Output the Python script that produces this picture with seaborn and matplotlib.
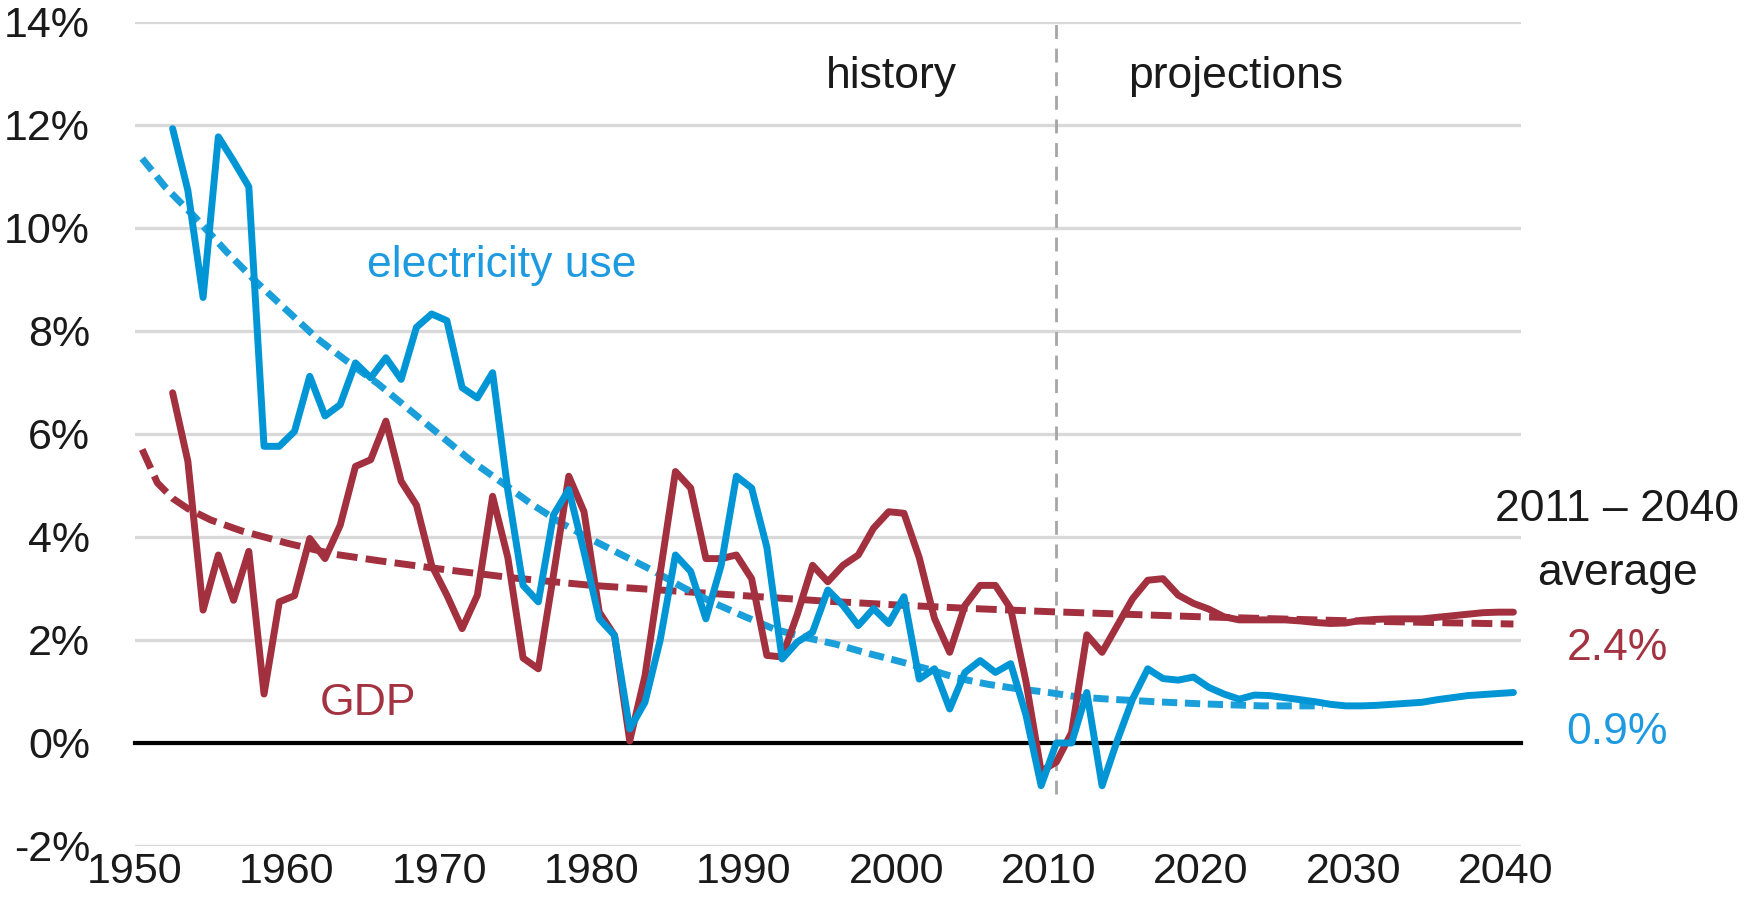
#!/usr/bin/env python3

import numpy as np
import pandas as pd
import seaborn as sns
import matplotlib.pyplot as plt
from matplotlib import font_manager

# annual growth rates (%), one value per year; points sit in the middle of each year
YEARS = list(range(1952, 2041))

ELECTRICITY = [
    11.93, 10.73, 8.65, 11.77, 11.3, 10.8, 5.76, 5.76, 6.05, 7.12,
    6.35, 6.57, 7.38, 7.09, 7.48, 7.06, 8.07, 8.33, 8.2, 6.9,
    6.7, 7.19, 4.9, 3.06, 2.74, 4.43, 4.92, 3.71, 2.41, 2.09,
    0.27, 0.79, 2.0, 3.65, 3.33, 2.41, 3.45, 5.18, 4.95, 3.8,
    1.63, 1.96, 2.15, 2.97, 2.67, 2.28, 2.61, 2.32, 2.84, 1.24,
    1.44, 0.66, 1.37, 1.6, 1.37, 1.54, 0.55, -0.83, 0.0, 0.0,
    0.98, -0.83, 0.05, 0.85, 1.44, 1.25, 1.22, 1.28, 1.08, 0.95,
    0.85, 0.93, 0.92, 0.88, 0.84, 0.8, 0.75, 0.72, 0.72, 0.73,
    0.75, 0.77, 0.79, 0.84, 0.88, 0.92, 0.94, 0.96, 0.98,
]

GDP = [
    6.8, 5.47, 2.58, 3.65, 2.77, 3.72, 0.95, 2.74, 2.86, 3.97,
    3.58, 4.23, 5.37, 5.5, 6.25, 5.08, 4.62, 3.45, 2.87, 2.22,
    2.87, 4.79, 3.6, 1.65, 1.44, 3.27, 5.18, 4.49, 2.54, 2.09,
    0.04, 1.3, 3.3, 5.27, 4.95, 3.58, 3.58, 3.65, 3.19, 1.7,
    1.67, 2.5, 3.45, 3.13, 3.45, 3.65, 4.17, 4.49, 4.46, 3.6,
    2.42, 1.76, 2.67, 3.06, 3.06, 2.61, 1.2, -0.55, -0.37, 0.2,
    2.1, 1.76, 2.28, 2.8, 3.16, 3.19, 2.87, 2.71, 2.6, 2.45,
    2.39, 2.39, 2.39, 2.39, 2.37, 2.34, 2.32, 2.33, 2.38, 2.4,
    2.41, 2.41, 2.41, 2.44, 2.47, 2.5, 2.53, 2.54, 2.54,
]

# long-run trend curves, read at sample points
ELEC_TREND_X = [1950.5, 1952, 1954, 1956, 1958, 1960, 1962, 1964, 1966, 1968,
                1970, 1972, 1974, 1976, 1978, 1980, 1982, 1984, 1986, 1988,
                1990, 1992, 1994, 1996, 1998, 2000, 2002, 2004, 2006, 2008,
                2010, 2012, 2014, 2017, 2020, 2024, 2028]
ELEC_TREND = [11.35, 10.8, 10.2, 9.55, 8.95, 8.4, 7.85, 7.4, 6.97, 6.48,
              5.99, 5.5, 5.08, 4.65, 4.27, 3.95, 3.65, 3.35, 3.02, 2.72,
              2.46, 2.21, 2.05, 1.92, 1.75, 1.6, 1.44, 1.26, 1.14, 1.05,
              0.98, 0.89, 0.85, 0.8, 0.76, 0.72, 0.72]

GDP_TREND_X = [1950.5, 1951.5, 1952.5, 1953.5, 1955, 1957, 1960, 1963, 1966, 1970,
               1975, 1980, 1985, 1990, 1995, 2000, 2005, 2010, 2015, 2020,
               2025, 2030, 2035, 2040.5]
GDP_TREND = [5.7, 5.05, 4.75, 4.55, 4.33, 4.12, 3.88, 3.67, 3.54, 3.38,
             3.2, 3.06, 2.96, 2.86, 2.76, 2.68, 2.61, 2.55, 2.5, 2.45,
             2.41, 2.37, 2.34, 2.31]

Y_TICKS = [-2, 0, 2, 4, 6, 8, 10, 12, 14]
X_TICKS = list(range(1950, 2041, 10))
DIVIDER_YEAR = 2010.5

BLUE = "#0096D6"
BLUE_TREND = "#1A9FDA"
BLUE_TEXT = "#1E9BE0"
RED = "#A2303F"
RED_TEXT = "#A33340"
LW = 5.0


def has_font(name):
    try:
        font_manager.findfont(name, fallback_to_default=False)
        return True
    except ValueError:
        return False


sns.set_style("white")
plt.rcParams["font.family"] = ["Liberation Sans", "Arial", "DejaVu Sans"]

if has_font("Liberation Sans Narrow"):
    tick_font = dict(family="Liberation Sans Narrow", size=34)
else:
    tick_font = dict(family="Liberation Sans", size=31)

df = pd.DataFrame({
    "x": np.array(YEARS) + 0.5,
    "electricity": ELECTRICITY,
    "gdp": GDP,
})

fig, ax = plt.subplots(figsize=(17.54, 8.97), dpi=100)
fig.subplots_adjust(left=0.0767, right=0.8672, bottom=0.0569, top=0.9755)

sns.lineplot(x=GDP_TREND_X, y=GDP_TREND, ax=ax, color=RED, linewidth=LW,
             linestyle=(0, (3.0, 1.2)), zorder=3)
sns.lineplot(x=ELEC_TREND_X, y=ELEC_TREND, ax=ax, color=BLUE_TREND, linewidth=LW,
             linestyle=(0, (2.2, 1.1)), zorder=3)
sns.lineplot(df, x="x", y="gdp", ax=ax, color=RED, linewidth=LW, zorder=4)
sns.lineplot(df, x="x", y="electricity", ax=ax, color=BLUE, linewidth=LW, zorder=5)

ax.axvline(DIVIDER_YEAR, ymin=1 / 16, ymax=1, color="#A6A6A6", lw=2.0,
           linestyle=(0, (5, 3.5)), zorder=2)

ax.set_xlim(1950, 2041)
ax.set_ylim(-2, 14)
ax.set_yticks(Y_TICKS)
ax.set_yticklabels(["{}%".format(v) for v in Y_TICKS], **tick_font)
ax.set_xticks(X_TICKS)
ax.grid(axis="y", color="#D9D9D9", lw=2.4, zorder=0)
ax.grid(axis="x", visible=False)
ax.set_xlabel("")
ax.set_ylabel("")

for side in ["top", "right", "left"]:
    ax.spines[side].set_visible(False)
ax.spines["bottom"].set_position(("data", 0))
ax.spines["bottom"].set_color("black")
ax.spines["bottom"].set_linewidth(3.0)
ax.spines["bottom"].set_zorder(2.5)
ax.tick_params(axis="x", direction="out", length=10, width=3.0,
               color="black", labelbottom=False)
ax.tick_params(axis="y", length=0, pad=32, labelcolor="#1a1a1a")

# year labels sit under the plot, not on the zero line
sec = ax.secondary_xaxis(location=0)
sec.set_xticks(X_TICKS)
sec.set_xticklabels([str(v) for v in X_TICKS], **tick_font)
sec.tick_params(length=0, pad=4, labelcolor="#1a1a1a")
sec.spines["bottom"].set_visible(False)

text_kw = dict(fontsize=32, ha="center", va="center", clip_on=False)
ax.text(1999.7, 12.95, "history", color="#1a1a1a", **text_kw)
ax.text(2022.3, 12.95, "projections", color="#1a1a1a", **text_kw)
ax.text(1974.1, 9.27, "electricity use", color=BLUE_TEXT, **text_kw)
ax.text(1965.3, 0.77, "GDP", color=RED_TEXT, **text_kw)
ax.text(2047.3, 4.53, "2011 \u2013 2040", color="#1a1a1a", **text_kw)
ax.text(2047.3, 3.3, "average", color="#1a1a1a", **text_kw)
ax.text(2047.3, 1.83, "2.4%", color=RED_TEXT, **text_kw)
ax.text(2047.3, 0.2, "0.9%", color=BLUE_TEXT, **text_kw)

plt.savefig("out.png", dpi=100)
